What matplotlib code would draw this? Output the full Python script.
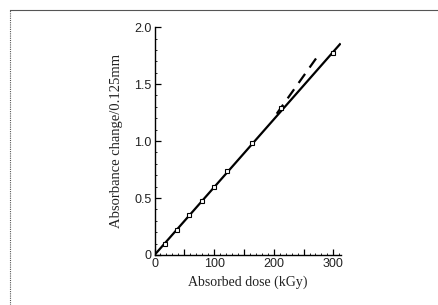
import matplotlib.pyplot as plt
from matplotlib.lines import Line2D

# Datos
dosis = [17, 37, 58, 79, 100, 122, 163, 213, 300]
absorbancia = [0.10, 0.22, 0.35, 0.47, 0.60, 0.74, 0.98, 1.29, 1.77]

# Recta ajustada (sólida) y curva discontinua
recta_x = [0, 311]
recta_y = [0, 1.85]
disc_x = [205, 273]
disc_y = [1.24, 1.74]

x_ticks = [0, 50, 100, 150, 200, 250, 300]
x_labels = ['0', '', '100', '', '200', '', '300']
y_ticks = [0, 0.5, 1.0, 1.5, 2.0]
y_labels = ['0', '0.5', '1.0', '1.5', '2.0']

plt.rcParams['font.family'] = ['Liberation Serif', 'DejaVu Serif']

fig = plt.figure(figsize=(4.39, 3.05), dpi=100)

# Marco de la figura (solo izquierda y arriba)
fig.add_artist(Line2D([0.023, 0.023], [0, 0.967], color='#555555', lw=0.8,
                      linestyle=(0, (1, 1)), transform=fig.transFigure))
fig.add_artist(Line2D([0.023, 1.0], [0.967, 0.967], color='#555555', lw=0.8,
                      transform=fig.transFigure))

ax = fig.add_axes([0.352, 0.164, 0.425, 0.747])
ax.plot(recta_x, recta_y, color='black', lw=1.6)
ax.plot(disc_x, disc_y, color='black', lw=1.6, dashes=(5, 3.5))
ax.plot(dosis, absorbancia, linestyle='none', marker='s', ms=3.4,
        mfc='white', mec='black', mew=0.8)

ax.set_xlim(0, 313)
ax.set_ylim(0, 2.0)
ax.spines['top'].set_visible(False)
ax.spines['right'].set_visible(False)
for s in ['left', 'bottom']:
    ax.spines[s].set_linewidth(1.0)
ax.set_xticks(x_ticks)
ax.set_xticklabels(x_labels, family='Liberation Sans')
ax.set_xticks(range(0, 311, 10), minor=True)
ax.set_yticks(y_ticks)
ax.set_yticklabels(y_labels, family='Liberation Sans')
ax.set_yticks([i / 10 for i in range(21)], minor=True)
ax.tick_params(direction='in', length=4, width=0.9, labelsize=9, pad=2,
               labelcolor='#222222')
ax.tick_params(which='minor', direction='in', length=1.5, width=0.6)
ax.set_xlabel('Absorbed dose (kGy)', fontsize=10, labelpad=4, color='#222222')
ax.set_ylabel('Absorbance change/0.125mm', fontsize=10.5, labelpad=8,
              color='#222222')

fig.savefig('out.png', dpi=100)
